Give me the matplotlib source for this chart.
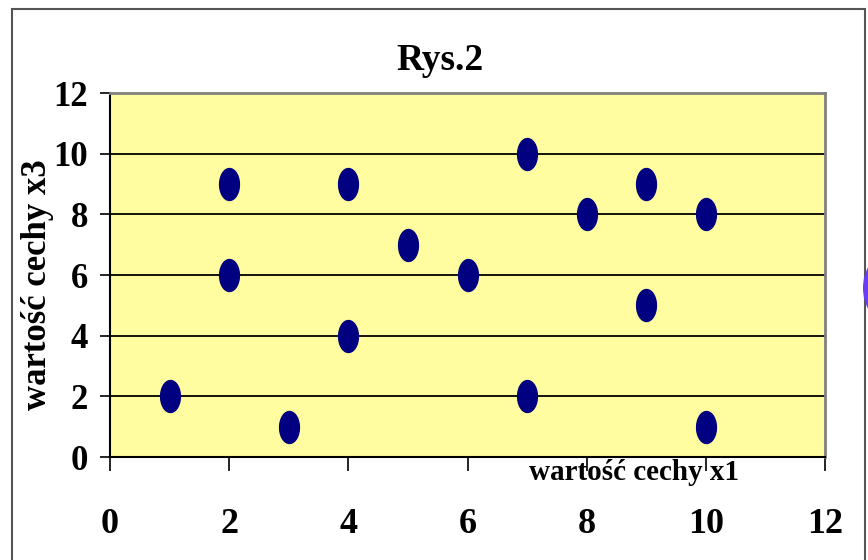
import matplotlib
matplotlib.use("Agg")
import matplotlib.pyplot as plt
from matplotlib.path import Path
from matplotlib.patches import Rectangle, Ellipse
import numpy as np

# Data
x1_values = [1, 2, 2, 3, 4, 4, 5, 6, 7, 7, 8, 9, 9, 10, 10]
x3_values = [2, 9, 6, 1, 9, 4, 7, 6, 10, 2, 8, 9, 5, 8, 1]
x_ticks = [0, 2, 4, 6, 8, 10, 12]
y_ticks = [0, 2, 4, 6, 8, 10, 12]
title_text = "Rys.2"
xlabel_text = "wartość cechy x1"
ylabel_text = "wartość cechy x3"

W, H = 868, 560
plt.rcParams['font.family'] = ['Liberation Serif', 'DejaVu Serif']
plt.rcParams['font.weight'] = 'bold'

fig = plt.figure(figsize=(W / 100, H / 100), dpi=100)
fig.patch.set_facecolor('white')

# outer chart border
fig.patches.append(Rectangle((12 / W, -0.05), (865 - 12) / W, 1.05 - 9 / H,
                             transform=fig.transFigure, fill=False,
                             edgecolor='#555555', lw=1.5))
# clipped purple shape at right edge
fig.patches.append(Ellipse((884 / W, 1 - 288 / H), 42 / W, 64 / H,
                           transform=fig.transFigure, facecolor='#6A3DF5',
                           edgecolor='none'))

left, right, top, bottom = 110, 825, 93, 457
ax = fig.add_axes([left / W, 1 - bottom / H, (right - left) / W, (bottom - top) / H])
ax.set_facecolor('#FFFD9F')
ax.set_xlim(0, 12)
ax.set_ylim(0, 12)

for yv in y_ticks[1:-1]:
    ax.axhline(yv, color='black', lw=1.3, zorder=1)

# elliptical marker
t = np.linspace(0, 2 * np.pi, 60)
ell = Path(np.column_stack([0.62 * np.cos(t), np.sin(t)]), closed=True)
ax.plot(x1_values, x3_values, linestyle='none', marker=ell, markersize=23,
        color='#000080', markeredgecolor='#000080', zorder=3, clip_on=False)

for s in ['top', 'right']:
    ax.spines[s].set_color('#808080')
    ax.spines[s].set_linewidth(2)
for s in ['left', 'bottom']:
    ax.spines[s].set_color('black')
    ax.spines[s].set_linewidth(1.5)

ax.set_xticks(x_ticks)
ax.set_yticks(y_ticks)
ax.set_xticklabels([str(v) for v in x_ticks], fontsize=26, fontweight='bold')
ax.set_yticklabels([str(v) for v in y_ticks], fontsize=25, fontweight='bold')
ax.tick_params(axis='x', direction='out', length=10, width=1.2, pad=27)
ax.tick_params(axis='y', direction='out', length=7, width=1.2, pad=9)

fig.text(440 / W, 1 - 60 / H, title_text, ha='center', va='center',
         fontsize=27, fontweight='bold')
fig.text(634 / W, 1 - 472 / H, xlabel_text, ha='center', va='center',
         fontsize=21, fontweight='bold')
fig.text(38 / W, 1 - 285 / H, ylabel_text, ha='center', va='center',
         rotation=90, fontsize=25, fontweight='bold')

fig.savefig('out.png', dpi=100)
